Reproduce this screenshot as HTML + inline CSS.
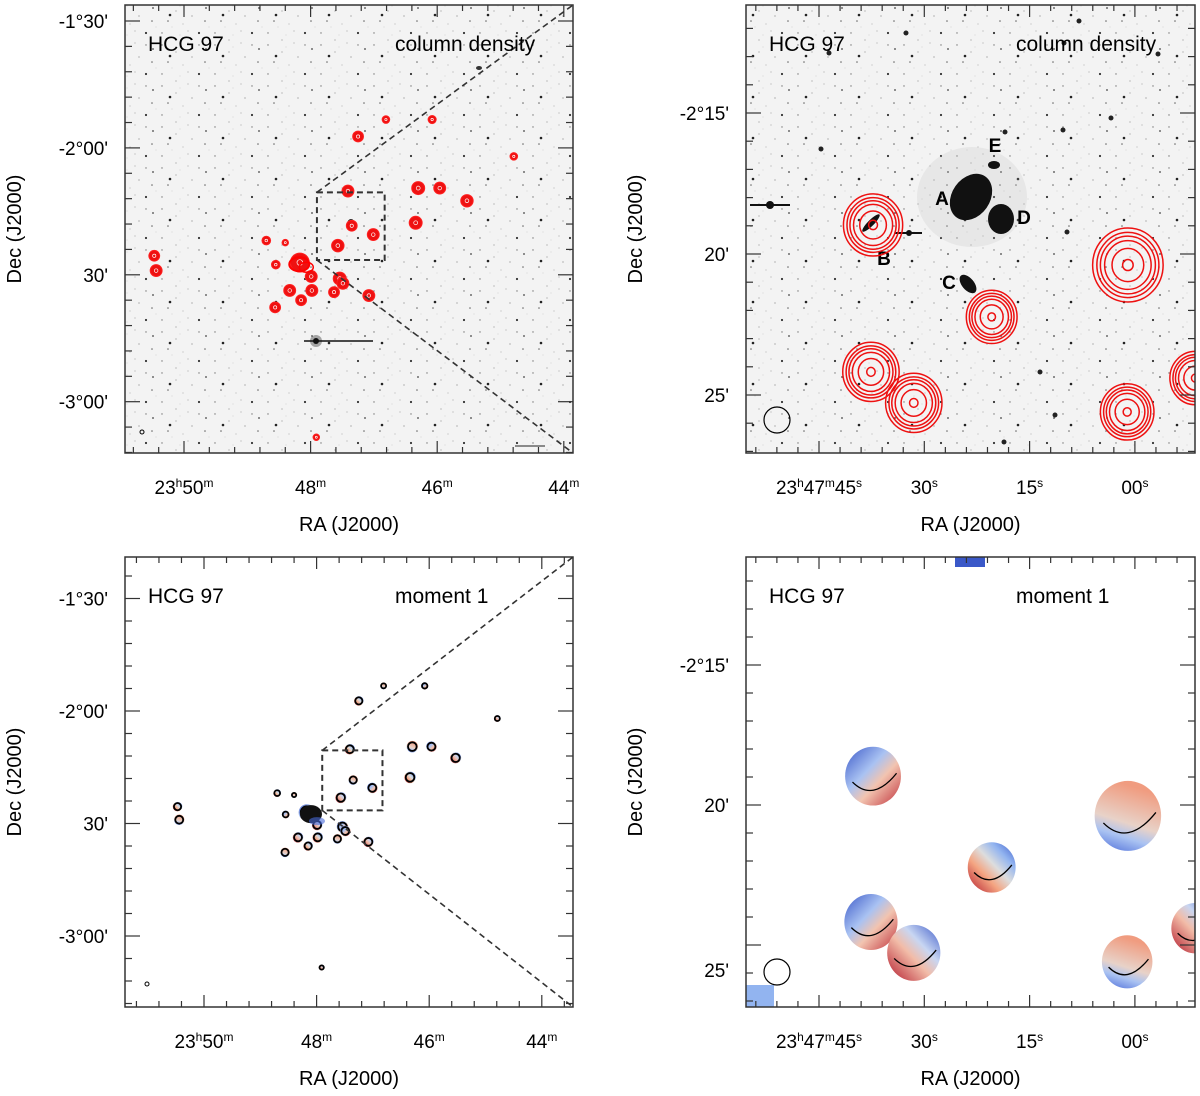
<!DOCTYPE html>
<html><head><meta charset="utf-8">
<style>
body{margin:0;background:#fff;}
svg{display:block;font-family:"Liberation Sans",Arial,sans-serif;}
</style></head>
<body>
<svg id="fig" width="1200" height="1096" viewBox="0 0 1200 1096" xmlns="http://www.w3.org/2000/svg">
<defs>
<pattern id="noise" width="37" height="29" patternUnits="userSpaceOnUse">
<rect width="37" height="29" fill="#f3f3f3"/>
<circle cx="3" cy="4" r="0.7" fill="#777"/><circle cx="17" cy="11" r="0.6" fill="#999"/>
<circle cx="29" cy="2" r="0.5" fill="#888"/><circle cx="9" cy="21" r="0.8" fill="#666"/>
<circle cx="24" cy="24" r="0.5" fill="#999"/><circle cx="33" cy="16" r="0.6" fill="#888"/>
<circle cx="13" cy="27" r="0.4" fill="#aaa"/><circle cx="21" cy="6" r="0.4" fill="#aaa"/>
</pattern>
<pattern id="noise2" width="53" height="41" patternUnits="userSpaceOnUse">
<rect width="53" height="41" fill="url(#noise)"/>
<circle cx="11" cy="15" r="1.3" fill="#222"/><circle cx="40" cy="33" r="1.1" fill="#333"/>
<circle cx="47" cy="8" r="0.9" fill="#444"/>
</pattern>
<linearGradient id="vg1" x1="0" y1="1" x2="1" y2="0"><stop offset="0" stop-color="#b2182b"/><stop offset="0.35" stop-color="#f4a582"/><stop offset="0.55" stop-color="#dddddd"/><stop offset="0.75" stop-color="#92b4f0"/><stop offset="1" stop-color="#3a58c8"/></linearGradient>
<linearGradient id="vg2" x1="0" y1="1" x2="0.3" y2="0"><stop offset="0" stop-color="#4a6ad8"/><stop offset="0.3" stop-color="#a9c2f2"/><stop offset="0.5" stop-color="#e8d2c8"/><stop offset="1" stop-color="#f09c80"/></linearGradient>
<linearGradient id="vg3" x1="0" y1="0" x2="1" y2="1"><stop offset="0" stop-color="#3a58c8"/><stop offset="0.4" stop-color="#a9c2f2"/><stop offset="0.6" stop-color="#f2c4b0"/><stop offset="1" stop-color="#c0303a"/></linearGradient>
<linearGradient id="vg4" x1="1" y1="0" x2="0" y2="1"><stop offset="0" stop-color="#3a58c8"/><stop offset="0.35" stop-color="#c8d6f2"/><stop offset="0.55" stop-color="#f2bca8"/><stop offset="1" stop-color="#b2182b"/></linearGradient>
</defs>
<g id="root"></g>
</svg>
<script>
// ---------- data ----------
const wideRA  = [47.25,46.81,46.08,44.79,47.41,46.30,45.96,45.53,46.34,47.35,47.01,47.57,48.70,48.40,48.17,47.99,50.47,50.44,48.55,48.33,47.98,47.63,47.54,47.08,48.15,48.56,47.49,47.91];
const wideDec = [-117.3,-113.3,-113.3,-122.0,-130.2,-129.5,-129.5,-132.5,-137.7,-138.4,-140.5,-143.1,-141.9,-142.4,-147.1,-150.4,-145.5,-149.0,-147.6,-153.7,-153.7,-154.1,-150.9,-154.9,-156.0,-157.7,-152.0,-188.4];
const wideSize= [2.0,1.4,1.5,1.4,2.2,2.4,2.2,2.3,2.4,2.0,2.2,2.3,1.6,1.2,3.5,2.2,2.0,2.2,1.6,2.2,2.2,2.0,2.4,2.2,2.0,2.0,2.2,1.2];
const zoomRA  = [37.3,20.4,1.0,37.6,31.5,1.1,-8.6];
const zoomDec = [18.97,22.23,20.39,24.18,25.28,25.6,24.4];
const zoomR   = [1.05,0.9,1.25,1.0,1.0,0.95,0.9];
const zoomGrad= ["vg3","vg1","vg2","vg3","vg4","vg2","vg4"];
const raTickLabelsWide = ["23<tspan dy='-7' font-size='12'>h</tspan><tspan dy='7'>50</tspan><tspan dy='-7' font-size='12'>m</tspan>","48<tspan dy='-7' font-size='12'>m</tspan>","46<tspan dy='-7' font-size='12'>m</tspan>","44<tspan dy='-7' font-size='12'>m</tspan>"];
const raTickValsWide = [50,48,46,44];
const decTickValsWide = [-90,-120,-150,-180];
const decTickLabelsWide = ["-1°30'","-2°00'","30'","-3°00'"];
const raTickValsZoom = [45,30,15,0];
const raTickLabelsZoom = ["23<tspan dy='-7' font-size='12'>h</tspan><tspan dy='7'>47</tspan><tspan dy='-7' font-size='12'>m</tspan><tspan dy='7'>45</tspan><tspan dy='-7' font-size='12'>s</tspan>","30<tspan dy='-7' font-size='12'>s</tspan>","15<tspan dy='-7' font-size='12'>s</tspan>","00<tspan dy='-7' font-size='12'>s</tspan>"];
const decTickValsZoom = [15,20,25];
const decTickLabelsZoom = ["-2°15'","20'","25'"];

// ---------- helpers ----------
const NS="http://www.w3.org/2000/svg";
const root=document.getElementById('root');
function mk(tag,attrs,parent){const e=document.createElementNS(NS,tag);for(const k in attrs)e.setAttribute(k,attrs[k]);(parent||root).appendChild(e);return e;}

const panels=[
 {id:'tl',x0:125,y0:5,x1:573,y1:453,bg:'url(#noise2)',ax:r=>184+(50-r)*63.3,ay:d=>21+(-90-d)*4.23,kind:'wide',label:'column density'},
 {id:'tr',x0:746,y0:5,x1:1195,y1:453,bg:'url(#noise2)',ax:s=>819+(45-s)*7.02,ay:d=>113+(d-15)*28.2,kind:'zoom',label:'column density'},
 {id:'bl',x0:125,y0:557,x1:573,y1:1007,bg:'#fff',ax:r=>204+(50-r)*56.3,ay:d=>598.5+(-90-d)*3.75,kind:'wide',label:'moment 1'},
 {id:'br',x0:746,y0:557,x1:1195,y1:1007,bg:'#fff',ax:s=>819+(45-s)*7.02,ay:d=>665+(d-15)*28,kind:'zoom',label:'moment 1'}
];

panels.forEach(p=>{
 const g=mk('g',{});
 
 
 const cp=mk('clipPath',{id:'clip-'+p.id},g);
 mk('rect',{x:p.x0,y:p.y0,width:p.x1-p.x0,height:p.y1-p.y0},cp);
 const bg=mk('rect',{x:p.x0,y:p.y0,width:p.x1-p.x0,height:p.y1-p.y0,fill:p.bg},g);
 
 
 const c=mk('g',{'clip-path':'url(#clip-'+p.id+')'},g);
 const top=p.id[0]==='t';
 if(p.kind==='wide'){
   if(top){
     mk('circle',{cx:316,cy:341,r:6,fill:'#555',opacity:0.5},c);
     mk('line',{x1:304,y1:341,x2:373,y2:341,stroke:'#111','stroke-width':1.5},c);
     mk('circle',{cx:316,cy:341,r:3,fill:'#111'},c);
     mk('ellipse',{cx:351,cy:224,rx:4,ry:5,fill:'#222'},c);
     mk('ellipse',{cx:479,cy:68,rx:3,ry:2,fill:'#333'},c);
     mk('line',{x1:515,y1:446,x2:545,y2:446,stroke:'#222','stroke-width':1},c);
     mk('circle',{cx:142,cy:432,r:2,fill:'none',stroke:'#000'},c);
   } else {
     mk('circle',{cx:147,cy:984,r:2,fill:'none',stroke:'#000'},c);
   }
   wideRA.forEach((ra,i)=>{
     const cx=p.ax(ra), cy=p.ay(wideDec[i]);
     const r=wideSize[i]*(top?2.7:2.4);
     const b=mk('g',{},c);
     
     
     if(top){
       mk('circle',{cx:cx,cy:cy,r:r,fill:'#ee1111',stroke:'#ff2020','stroke-width':1},b);
       mk('circle',{cx:cx,cy:cy,r:Math.max(1,r*0.3),fill:'none',stroke:'#fff','stroke-width':0.7},b);
     } else {
       mk('circle',{cx:cx,cy:cy,r:r,fill:'url(#vg'+(1+i%4)+')'},b);
       mk('circle',{cx:cx,cy:cy,r:r*0.75,fill:'none',stroke:'#000','stroke-width':1.8},b);
     }
   });
   const coreX=p.ax(48.1), coreY=p.ay(-147.5);
   if(top){
     mk('ellipse',{cx:coreX-5,cy:coreY,rx:10,ry:7,fill:'none',stroke:'#f00','stroke-width':2},c);
     mk('ellipse',{cx:coreX+2,cy:coreY+3,rx:7,ry:5,fill:'none',stroke:'#f00','stroke-width':1.5},c);
   } else {
     mk('ellipse',{cx:coreX,cy:coreY,rx:11,ry:9,fill:'#111'},c);
     mk('ellipse',{cx:coreX+6,cy:coreY+7,rx:8,ry:4,fill:'#4a6ad8',opacity:0.6},c);
   }
   const bx0=p.ax(47.9), bx1=p.ax(46.83), by0=p.ay(-130.5), by1=p.ay(-146.5);
   const box=mk('rect',{x:bx0,y:by0,width:bx1-bx0,height:by1-by0,fill:'none',stroke:'#333','stroke-width':2,'stroke-dasharray':'6,4'},c);
   
   
   mk('line',{x1:bx0,y1:by0,x2:p.x1,y2:p.y0,stroke:'#333','stroke-width':1.6,'stroke-dasharray':'6,4'},c);
   mk('line',{x1:bx0,y1:by1,x2:p.x1,y2:p.y1,stroke:'#333','stroke-width':1.6,'stroke-dasharray':'6,4'},c);
 } else {
   if(top){
     mk('ellipse',{cx:972,cy:197,rx:55,ry:50,fill:'#bbb',opacity:0.2},c);
     mk('ellipse',{cx:971,cy:197,rx:19,ry:25,fill:'#111',transform:'rotate(35 971 197)'},c);
     mk('ellipse',{cx:1001,cy:219,rx:13,ry:15,fill:'#111'},c);
     mk('ellipse',{cx:994,cy:165,rx:6,ry:4,fill:'#111'},c);
     mk('ellipse',{cx:968,cy:284,rx:6,ry:11,fill:'#111',transform:'rotate(-40 968 284)'},c);
     mk('ellipse',{cx:871,cy:223,rx:3,ry:12,fill:'#111',transform:'rotate(45 871 223)'},c);
     mk('line',{x1:750,y1:205,x2:790,y2:205,stroke:'#111','stroke-width':2},c);
     mk('circle',{cx:770,cy:205,r:4,fill:'#111'},c);
     mk('line',{x1:895,y1:233,x2:922,y2:233,stroke:'#111','stroke-width':2},c);
     mk('circle',{cx:909,cy:233,r:3,fill:'#111'},c);
     [[1111,118],[1063,130],[1064,43],[906,33],[829,53],[821,149],[1158,54],[1079,21],[1005,132],[1067,232],[1004,442],[1040,372],[1055,415]].forEach(q=>mk('circle',{cx:q[0],cy:q[1],r:2.5,fill:'#222'},c));
     const labs=[['A',942,205],['B',884,265],['C',949,289],['D',1024,224],['E',995,152]];
     labs.forEach(l=>{const t=mk('text',{x:l[1],y:l[2],'font-size':19,'font-weight':'bold','text-anchor':'middle',fill:'#000'},c);t.textContent=l[0];
       
       });
   } else {
     mk('rect',{x:955,y:557,width:30,height:10,fill:'#3a58c8'},c);
     mk('rect',{x:746,y:985,width:28,height:22,fill:'#92b4f0'},c);
   }
   zoomRA.forEach((s,i)=>{
     const cx=p.ax(s), cy=p.ay(zoomDec[i]);
     const r=zoomR[i]*(top?28.2:28);
     const b=mk('g',{},c);
     
     
     if(top){
       [1,0.88,0.78,0.66,0.45,0.15].forEach(f=>mk('ellipse',{cx:cx,cy:cy,rx:r*f,ry:r*f*1.05,fill:'none',stroke:'#ee1111','stroke-width':1.5},b));
     } else {
       mk('ellipse',{cx:cx,cy:cy,rx:r*0.95,ry:r,fill:'url(#'+zoomGrad[i]+')'},b);
       mk('path',{d:`M${cx-r*0.7} ${cy+r*0.2} Q ${cx} ${cy+r*0.9} ${cx+r*0.8} ${cy-r*0.1}`,fill:'none',stroke:'#000','stroke-width':1.3},b);
     }
   });
   const beam=mk('circle',{cx:777,cy:top?420:972,r:13,fill:'none',stroke:'#000','stroke-width':1.2},c);
   
   
 }
 mk('rect',{x:p.x0,y:p.y0,width:p.x1-p.x0,height:p.y1-p.y0,fill:'none',stroke:'#333','stroke-width':1.5},g);
 const raVals=p.kind==='wide'?raTickValsWide:raTickValsZoom;
 const raLabs=p.kind==='wide'?raTickLabelsWide:raTickLabelsZoom;
 const decVals=p.kind==='wide'?decTickValsWide:decTickValsZoom;
 const decLabs=p.kind==='wide'?decTickLabelsWide:decTickLabelsZoom;
 const raMinor=p.kind==='wide'?0.4:3, decMinor=p.kind==='wide'?6:1;
 const raStart=p.kind==='wide'?51.2:54, raEnd=p.kind==='wide'?43.4:-12;
 for(let v=raStart; v>=raEnd-1e-6; v-=raMinor){
   const x=p.ax(Math.round(v*100)/100); if(x<=p.x0||x>=p.x1)continue;
   const major=raVals.some(m=>Math.abs(m-v)<1e-6);
   const L=major?12:6;
   mk('line',{x1:x,y1:p.y1,x2:x,y2:p.y1-L,stroke:'#333','stroke-width':1.2},g);
   mk('line',{x1:x,y1:p.y0,x2:x,y2:p.y0+L,stroke:'#333','stroke-width':1.2},g);
 }
 const dStart=p.kind==='wide'?-72:9, dEnd=p.kind==='wide'?-198:28;
 if(p.kind==='wide'){for(let d=dStart; d>=dEnd; d-=decMinor)tickY(d);}else{for(let d=dStart; d<=dEnd; d+=decMinor)tickY(d);}
 function tickY(d){
   const y=p.ay(d); if(y<=p.y0||y>=p.y1)return;
   const major=decVals.includes(d);
   const L=major?15:7;
   mk('line',{x1:p.x0,y1:y,x2:p.x0+L,y2:y,stroke:'#333','stroke-width':1.2},g);
   mk('line',{x1:p.x1,y1:y,x2:p.x1-L,y2:y,stroke:'#333','stroke-width':1.2},g);
 }
 raVals.forEach((v,i)=>{
   const t=mk('text',{x:p.ax(v),y:p.y1+41,'font-size':19,'text-anchor':'middle',fill:'#000'},g);
   t.innerHTML=raLabs[i];
   
   
 });
 decVals.forEach((v,i)=>{
   let y=p.ay(v)+7; if(p.id==='br'&&v===25)y+=25;
   const t=mk('text',{x:p.x0-17,y:y,'font-size':19,'text-anchor':'end',fill:'#000'},g);
   t.textContent=decLabs[i];
   
   
 });
 const xt=mk('text',{x:(p.x0+p.x1)/2,y:p.y1+78,'font-size':20,'text-anchor':'middle',fill:'#000'},g);
 xt.textContent='RA (J2000)';
 
 
 const yc=(p.y0+p.y1)/2, yx=p.x0-104;
 const yt=mk('text',{x:yx,y:yc,'font-size':20,'text-anchor':'middle',fill:'#000',transform:`rotate(-90 ${yx} ${yc})`},g);
 yt.textContent='Dec (J2000)';
 
 
 const t1=mk('text',{x:p.x0+23,y:p.y0+46,'font-size':21,fill:'#000'},g);
 t1.textContent='HCG 97';
 
 
 const t2=mk('text',{x:p.x0+270,y:p.y0+46,'font-size':21,fill:'#000'},g);
 t2.textContent=p.label;
 
 
});
</script>
</body></html>
